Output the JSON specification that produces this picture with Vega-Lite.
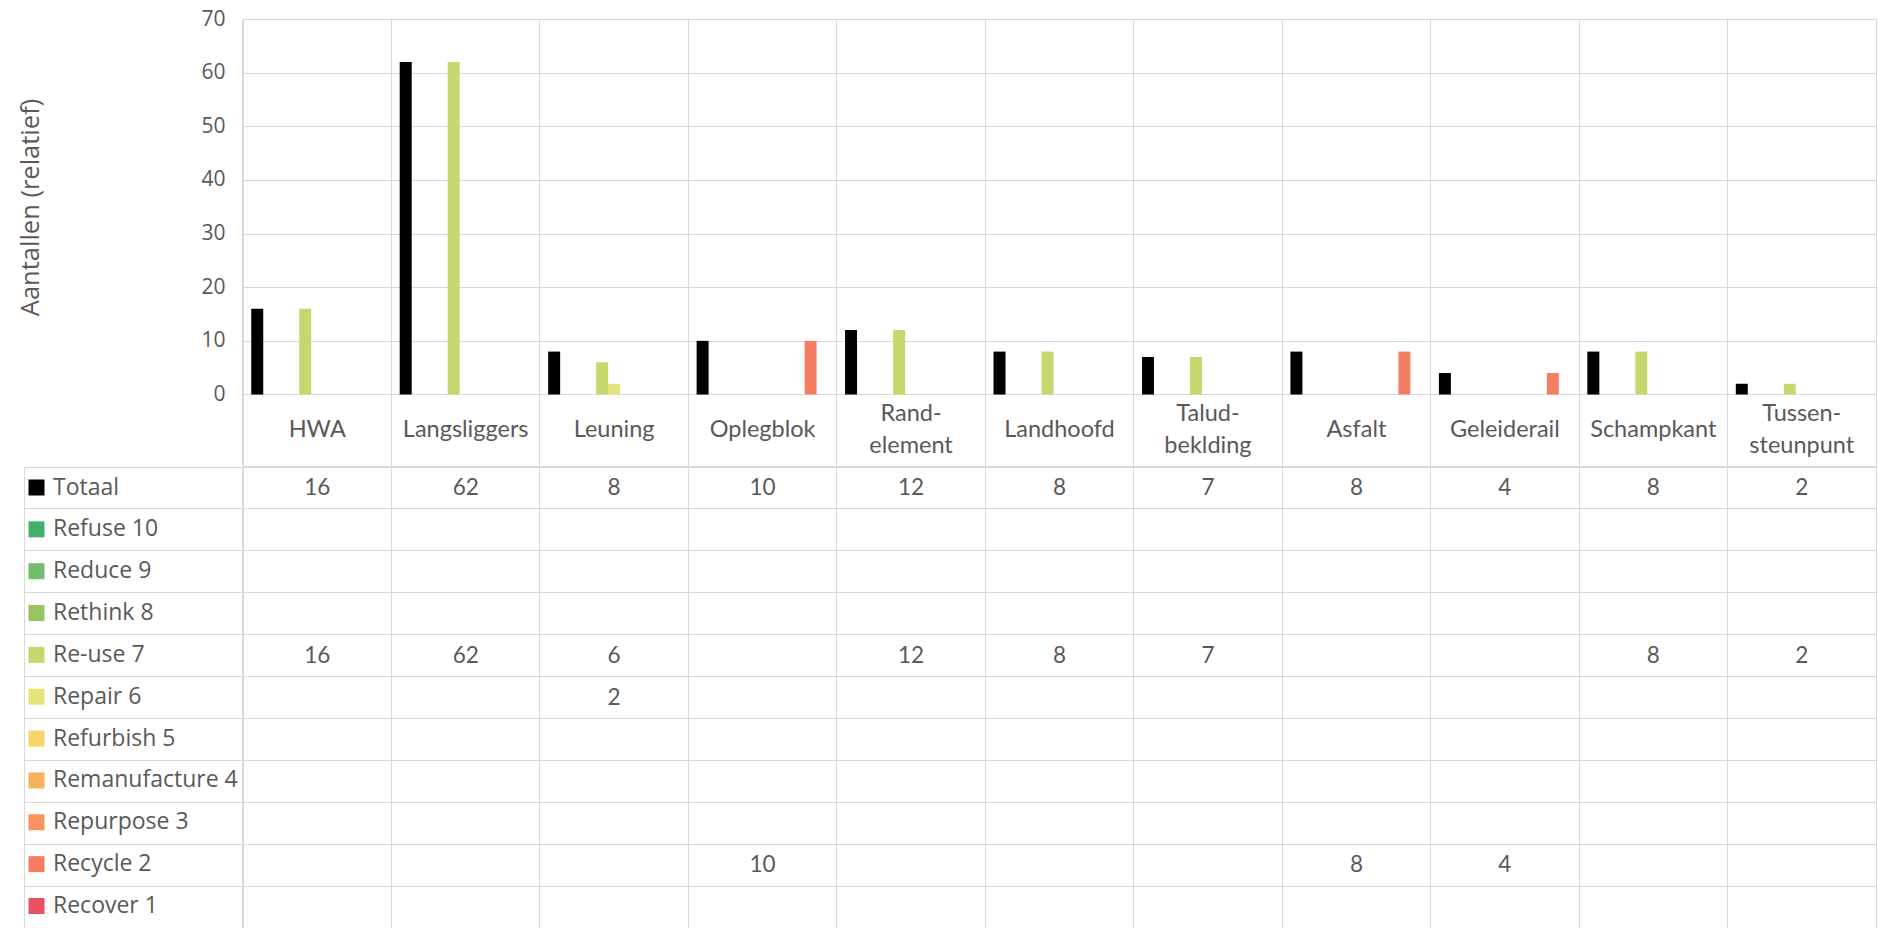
{
  "$schema": "https://vega.github.io/schema/vega-lite/v6.json",
  "padding": {"top": 7, "left": 18, "right": 0, "bottom": 0},
  "background": "white",
  "datasets": {
    "tabel": [
      {"element": "HWA", "serie": "Totaal", "aantal": 16},
      {"element": "HWA", "serie": "Re-use 7", "aantal": 16},
      {"element": "Langsliggers", "serie": "Totaal", "aantal": 62},
      {"element": "Langsliggers", "serie": "Re-use 7", "aantal": 62},
      {"element": "Leuning", "serie": "Totaal", "aantal": 8},
      {"element": "Leuning", "serie": "Re-use 7", "aantal": 6},
      {"element": "Leuning", "serie": "Repair 6", "aantal": 2},
      {"element": "Oplegblok", "serie": "Totaal", "aantal": 10},
      {"element": "Oplegblok", "serie": "Recycle 2", "aantal": 10},
      {"element": "Rand-element", "serie": "Totaal", "aantal": 12},
      {"element": "Rand-element", "serie": "Re-use 7", "aantal": 12},
      {"element": "Landhoofd", "serie": "Totaal", "aantal": 8},
      {"element": "Landhoofd", "serie": "Re-use 7", "aantal": 8},
      {"element": "Talud-beklding", "serie": "Totaal", "aantal": 7},
      {"element": "Talud-beklding", "serie": "Re-use 7", "aantal": 7},
      {"element": "Asfalt", "serie": "Totaal", "aantal": 8},
      {"element": "Asfalt", "serie": "Recycle 2", "aantal": 8},
      {"element": "Geleiderail", "serie": "Totaal", "aantal": 4},
      {"element": "Geleiderail", "serie": "Recycle 2", "aantal": 4},
      {"element": "Schampkant", "serie": "Totaal", "aantal": 8},
      {"element": "Schampkant", "serie": "Re-use 7", "aantal": 8},
      {"element": "Tussen-steunpunt", "serie": "Totaal", "aantal": 2},
      {"element": "Tussen-steunpunt", "serie": "Re-use 7", "aantal": 2}
    ]
  },
  "data": {"name": "tabel"},
  "spacing": -3,
  "resolve": {"scale": {"x": "independent", "y": "independent"}},
  "config": {
    "view": {"stroke": "#d9d9d9", "strokeWidth": 1},
    "axis": {"gridColor": "#d9d9d9", "gridWidth": 1}
  },
  "vconcat": [
    {
      "width": 1633,
      "height": 447,
      "mark": {"type": "bar"},
      "encoding": {
        "x": {
          "field": "element",
          "type": "nominal",
          "sort": ["HWA", "Langsliggers", "Leuning", "Oplegblok", "Rand-element", "Landhoofd", "Talud-beklding", "Asfalt", "Geleiderail", "Schampkant", "Tussen-steunpunt"],
          "scale": {
            "domain": ["HWA", "Langsliggers", "Leuning", "Oplegblok", "Rand-element", "Landhoofd", "Talud-beklding", "Asfalt", "Geleiderail", "Schampkant", "Tussen-steunpunt"],
            "paddingInner": 0, "paddingOuter": 0
          },
          "axis": {
            "title": null,
            "orient": "bottom",
            "bandPosition": 0,
            "grid": true,
            "ticks": false,
            "domain": false,
            "labelPadding": {"condition": {"test": "indexof(datum.label, '-') > 0", "value": -53}, "value": -37},
            "labelAlign": "center",
            "labelBaseline": "middle",
            "labelAngle": 0,
            "labelFont": "Lato",
            "labelFontSize": 23.5,
            "labelColor": "#595959",
            "labelLineHeight": 32,
            "labelLimit": 0,
            "labelExpr": "indexof(datum.label, '-') > 0 ? [slice(datum.label, 0, indexof(datum.label, '-') + 1), slice(datum.label, indexof(datum.label, '-') + 1)] : datum.label"
          }
        },
        "xOffset": {
          "field": "serie",
          "type": "nominal",
          "scale": {
            "domain": ["Totaal", "Refuse 10", "Reduce 9", "Rethink 8", "Re-use 7", "Repair 6", "Refurbish 5", "Remanufacture 4", "Repurpose 3", "Recycle 2", "Recover 1"],
            "paddingInner": 0, "paddingOuter": 0.6875
          }
        },
        "y": {
          "field": "aantal",
          "type": "quantitative",
          "stack": null,
          "scale": {"domain": [-13.33, 70], "nice": false, "zero": false},
          "axis": {
            "title": "Aantallen (relatief)",
            "values": [0, 10, 20, 30, 40, 50, 60, 70],
            "grid": true,
            "domain": false,
            "ticks": false,
            "labelPadding": 18,
            "labelFont": "Open Sans",
            "labelFontSize": 21,
            "labelColor": "#595959",
            "titleFont": "Open Sans",
            "titleFontSize": 25.5,
            "titleFontWeight": "normal",
            "titleColor": "#595959",
            "titlePadding": 157,
            "titleY": 188
          }
        },
        "color": {
          "field": "serie",
          "type": "nominal",
          "scale": {
            "domain": ["Totaal", "Refuse 10", "Reduce 9", "Rethink 8", "Re-use 7", "Repair 6", "Refurbish 5", "Remanufacture 4", "Repurpose 3", "Recycle 2", "Recover 1"],
            "range": ["#000000", "#43b06a", "#71bd6c", "#98c466", "#c5d86d", "#e5e37a", "#f8d468", "#f5b15e", "#f99460", "#f47e64", "#ea5160"]
          },
          "legend": {
            "orient": "none",
            "legendX": -218,
            "legendY": 457,
            "direction": "vertical",
            "title": null,
            "symbolType": "square",
            "symbolSize": 256,
            "symbolStrokeWidth": 0,
            "labelFont": "Open Sans",
            "labelFontSize": 23,
            "labelColor": "#595959",
            "labelOffset": 5,
            "rowPadding": 17.85,
            "labelLimit": 0
          }
        }
      }
    },
    {
      "width": 1633,
      "height": 461,
      "mark": {"type": "text", "font": "Lato", "fontSize": 22.5, "color": "#595959"},
      "encoding": {
        "x": {
          "field": "element",
          "type": "nominal",
          "scale": {
            "type": "band",
            "domain": ["HWA", "Langsliggers", "Leuning", "Oplegblok", "Rand-element", "Landhoofd", "Talud-beklding", "Asfalt", "Geleiderail", "Schampkant", "Tussen-steunpunt"],
            "paddingInner": 0, "paddingOuter": 0
          },
          "axis": {
            "title": null,
            "bandPosition": 0,
            "grid": true,
            "labels": false,
            "ticks": false,
            "domain": false
          }
        },
        "y": {
          "field": "serie",
          "type": "nominal",
          "scale": {
            "type": "band",
            "domain": ["Totaal", "Refuse 10", "Reduce 9", "Rethink 8", "Re-use 7", "Repair 6", "Refurbish 5", "Remanufacture 4", "Repurpose 3", "Recycle 2", "Recover 1"],
            "paddingInner": 0, "paddingOuter": 0
          },
          "axis": {
            "title": null,
            "bandPosition": 0,
            "grid": true,
            "labels": false,
            "domain": true,
            "domainColor": "#d9d9d9",
            "offset": 219,
            "ticks": true,
            "tickSize": -219,
            "tickColor": "#d9d9d9"
          }
        },
        "text": {"field": "aantal", "type": "quantitative"}
      }
    }
  ]
}
